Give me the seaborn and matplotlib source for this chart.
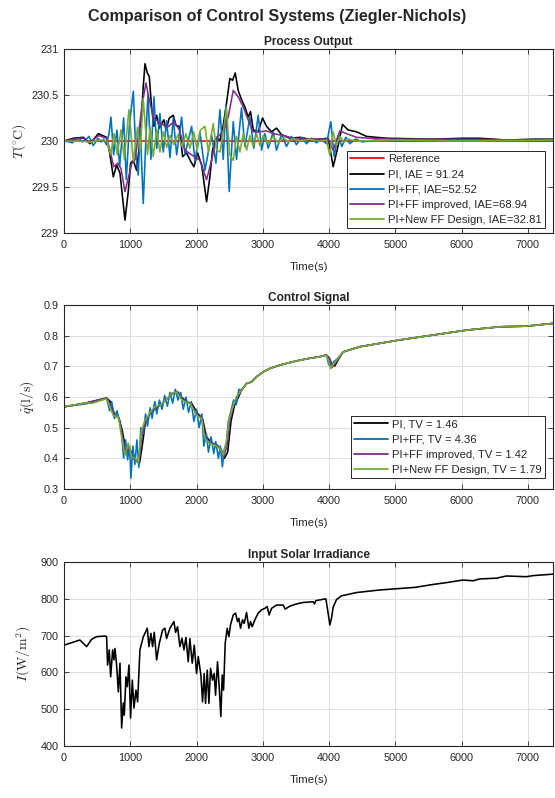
import matplotlib
matplotlib.use("Agg")
import matplotlib.pyplot as plt
import seaborn as sns

# ---- process output ----
ref_t = [0, 7380]
ref_y = [230.0, 230.0]

pi_t = [0, 141, 292, 392, 518, 643, 694, 744, 794, 845, 920, 970, 1005, 1046, 1096, 1146, 1196, 1222,
        1257, 1287, 1322, 1357, 1398, 1438, 1508, 1539, 1589, 1649, 1689, 1740, 1790, 1850, 1911, 1961,
        2016, 2077, 2152, 2202, 2242, 2292, 2353, 2403, 2453, 2503, 2544, 2584, 2629, 2679, 2730, 2780,
        2815, 2856, 2931, 2996, 3056, 3132, 3207, 3282, 3408, 3559, 3700, 3861, 3987, 4062, 4122, 4203,
        4289, 4415, 4565, 4867, 5570, 6023, 6274, 6677, 7079, 7380]
pi_y = [230.00, 230.03, 230.04, 229.97, 230.08, 230.04, 229.85, 229.61, 229.74, 229.65, 229.14, 229.45,
        229.76, 229.79, 229.68, 230.01, 230.59, 230.84, 230.74, 230.70, 230.37, 230.16, 230.28, 230.14,
        230.23, 230.12, 230.25, 230.28, 230.17, 230.16, 229.83, 229.87, 229.78, 229.72, 229.87, 229.74,
        229.34, 229.61, 229.90, 230.03, 230.01, 230.17, 230.41, 230.68, 230.66, 230.74, 230.55, 230.45,
        230.37, 230.26, 230.32, 230.12, 230.10, 230.25, 230.16, 230.10, 230.14, 230.07, 230.03, 230.04,
        230.02, 230.02, 230.03, 229.72, 229.90, 230.18, 230.12, 230.10, 230.05, 230.03, 230.02, 230.03,
        230.03, 230.01, 230.02, 230.02]

ff_t = [0, 80, 126, 180, 226, 276, 326, 377, 442, 513, 560, 600, 638, 680, 709, 749, 799, 840, 900, 940,
        990, 1046, 1085, 1121, 1150, 1196, 1240, 1267, 1312, 1357, 1400, 1448, 1498, 1549, 1600, 1649,
        1700, 1775, 1825, 1926, 1976, 2051, 2127, 2227, 2293, 2353, 2403, 2443, 2493, 2554, 2604, 2679,
        2730, 2805, 2865, 2931, 2982, 3032, 3082, 3157, 3207, 3282, 3358, 3433, 3508, 3584, 3660, 3735,
        3811, 3886, 3962, 4027, 4077, 4137, 4193, 4253, 4313, 4400, 4500, 4700, 5000, 5500, 6000, 6500,
        7000, 7380]
ff_y = [230.00, 229.99, 229.98, 230.02, 230.03, 229.99, 230.01, 230.05, 229.95, 230.03, 229.99, 230.02,
        229.96, 230.08, 230.26, 229.85, 230.12, 229.72, 230.25, 229.58, 230.20, 230.54, 229.85, 229.63,
        230.15, 229.32, 230.10, 230.51, 229.80, 230.48, 229.92, 230.30, 229.88, 230.22, 229.82, 230.25,
        229.85, 230.26, 229.85, 230.16, 229.78, 230.10, 229.68, 230.07, 229.76, 230.34, 229.80, 230.39,
        229.45, 230.21, 229.80, 230.36, 229.94, 230.26, 229.92, 230.28, 229.90, 230.08, 229.92, 230.10,
        229.90, 230.07, 229.94, 230.05, 229.96, 230.04, 229.97, 230.03, 229.98, 230.02, 229.97, 230.21,
        229.83, 230.06, 229.94, 230.04, 229.97, 230.02, 229.99, 230.01, 230.00, 230.00, 230.01, 230.00,
        230.00, 230.00]

ffi_t = [0, 150, 290, 390, 520, 643, 694, 750, 810, 860, 920, 975, 1020, 1071, 1121, 1180, 1237, 1287,
         1347, 1438, 1560, 1664, 1740, 1825, 1926, 2051, 2152, 2227, 2302, 2403, 2478, 2554, 2629, 2705,
         2780, 2856, 2956, 3056, 3157, 3308, 3459, 3610, 3850, 3987, 4062, 4163, 4263, 4415, 4600, 5000,
         5600, 6200, 6800, 7380]
ffi_y = [230.00, 230.02, 230.03, 229.98, 230.06, 230.03, 229.90, 229.72, 229.76, 229.70, 229.45, 229.61,
         229.75, 229.80, 230.05, 230.40, 230.63, 230.45, 230.26, 230.20, 230.15, 230.21, 230.12, 229.90,
         229.85, 229.79, 229.58, 229.79, 230.04, 230.10, 230.26, 230.55, 230.48, 230.37, 230.23, 230.10,
         230.10, 230.11, 230.08, 230.06, 230.03, 230.02, 230.02, 230.02, 229.90, 230.11, 230.08, 230.04,
         230.03, 230.02, 230.02, 230.02, 230.01, 230.01]

nff_t = [0, 200, 400, 550, 650, 704, 754, 804, 860, 910, 980, 1046, 1110, 1150, 1196, 1260, 1300, 1347,
         1398, 1448, 1498, 1549, 1600, 1660, 1720, 1780, 1840, 1900, 1960, 2010, 2060, 2127, 2180, 2252,
         2302, 2353, 2403, 2453, 2500, 2554, 2604, 2655, 2705, 2755, 2805, 2856, 2906, 2956, 3006, 3082,
         3157, 3232, 3308, 3383, 3459, 3560, 3700, 3850, 3962, 4010, 4062, 4113, 4163, 4230, 4300, 4400,
         5000, 6000, 7380]
nff_y = [230.00, 230.00, 229.99, 230.01, 230.00, 229.85, 230.08, 229.85, 230.12, 229.80, 230.34, 229.78,
         230.15, 229.88, 230.46, 229.85, 230.15, 229.83, 230.12, 229.88, 230.10, 229.93, 230.06, 229.96,
         230.07, 229.94, 230.08, 229.92, 230.10, 229.90, 230.12, 230.16, 229.88, 230.19, 229.90, 229.88,
         230.10, 230.36, 229.85, 229.79, 230.05, 229.88, 230.08, 229.90, 230.06, 229.94, 230.08, 229.95,
         230.06, 229.97, 230.05, 229.98, 230.04, 229.99, 230.03, 230.00, 230.02, 230.00, 230.01, 229.85,
         230.10, 229.95, 230.05, 229.99, 230.02, 230.00, 230.01, 230.00, 230.01]

# ---- control signal ----
u_mid_t = [2679, 2755, 2830, 2906, 3006, 3107, 3258, 3459, 3560, 3700, 3850, 3962]
u_mid = [0.622, 0.644, 0.649, 0.666, 0.682, 0.693, 0.704, 0.715, 0.720, 0.726, 0.731, 0.737]
u_tail_t = [4213, 4465, 5068, 5570, 6073, 6576, 6979, 7380]
u_tail = [0.747, 0.764, 0.786, 0.802, 0.818, 0.829, 0.831, 0.840]

u_pi_t = [0, 342, 643, 700, 760, 830, 880, 940, 990, 1050, 1100, 1140, 1180, 1230, 1280, 1340, 1400,
          1480, 1560, 1640, 1710, 1780, 1850, 1930, 2020, 2090, 2150, 2230, 2300, 2370, 2420, 2470, 2520,
          2570]
u_pi = [0.568, 0.581, 0.597, 0.585, 0.545, 0.530, 0.490, 0.420, 0.430, 0.410, 0.390, 0.385, 0.440, 0.520,
        0.540, 0.555, 0.565, 0.578, 0.595, 0.612, 0.618, 0.598, 0.585, 0.578, 0.545, 0.530, 0.470, 0.450,
        0.445, 0.430, 0.400, 0.420, 0.520, 0.570]
u_pi_dip_t = [4010, 4050, 4090, 4140]
u_pi_dip = [0.725, 0.700, 0.702, 0.722]

u_ff_t = [0, 200, 342, 400, 450, 520, 643, 690, 720, 760, 800, 840, 870, 900, 930, 960, 990, 1010, 1040,
          1070, 1100, 1130, 1160, 1200, 1230, 1260, 1300, 1330, 1370, 1400, 1440, 1480, 1520, 1560, 1600,
          1640, 1680, 1720, 1760, 1800, 1840, 1880, 1920, 1960, 2000, 2040, 2080, 2110, 2150, 2180, 2220,
          2260, 2290, 2330, 2360, 2390, 2420, 2450, 2480, 2520, 2560, 2600, 2640]
u_ff = [0.568, 0.574, 0.578, 0.585, 0.582, 0.588, 0.595, 0.555, 0.585, 0.530, 0.555, 0.520, 0.480, 0.400,
        0.460, 0.395, 0.440, 0.335, 0.440, 0.380, 0.460, 0.370, 0.500, 0.480, 0.545, 0.505, 0.565, 0.530,
        0.585, 0.545, 0.590, 0.560, 0.605, 0.570, 0.615, 0.580, 0.625, 0.590, 0.615, 0.560, 0.600, 0.550,
        0.585, 0.520, 0.560, 0.500, 0.545, 0.440, 0.480, 0.420, 0.470, 0.415, 0.455, 0.400, 0.440, 0.372,
        0.430, 0.450, 0.520, 0.555, 0.590, 0.575, 0.625]
u_ff_dip_t = [3995, 4015, 4035, 4070, 4113]
u_ff_dip = [0.705, 0.720, 0.695, 0.715, 0.722]

u_ffi_t = [0, 342, 643, 700, 760, 830, 880, 930, 980, 1030, 1080, 1130, 1175, 1225, 1280, 1330, 1400,
           1460, 1545, 1630, 1705, 1770, 1835, 1910, 2010, 2085, 2135, 2210, 2285, 2360, 2410, 2460, 2505,
           2560, 2604]
u_ffi = [0.568, 0.581, 0.596, 0.575, 0.540, 0.532, 0.475, 0.415, 0.440, 0.400, 0.395, 0.392, 0.470, 0.522,
         0.540, 0.556, 0.567, 0.575, 0.592, 0.612, 0.617, 0.596, 0.584, 0.579, 0.542, 0.530, 0.466, 0.449,
         0.444, 0.432, 0.405, 0.440, 0.527, 0.572, 0.600]
u_ffi_dip_t = [4015, 4045, 4080, 4130]
u_ffi_dip = [0.720, 0.697, 0.705, 0.722]

u_nff_t = [0, 342, 417, 643, 683, 744, 820, 870, 920, 970, 1020, 1071, 1121, 1171, 1222, 1272, 1322, 1372,
           1448, 1539, 1624, 1700, 1760, 1825, 1901, 2001, 2077, 2127, 2202, 2277, 2353, 2403, 2453, 2493,
           2554, 2604]
u_nff = [0.568, 0.581, 0.579, 0.595, 0.573, 0.540, 0.535, 0.470, 0.410, 0.450, 0.405, 0.399, 0.388, 0.491,
         0.524, 0.540, 0.556, 0.568, 0.573, 0.590, 0.611, 0.617, 0.595, 0.584, 0.579, 0.540, 0.529, 0.464,
         0.448, 0.443, 0.432, 0.410, 0.459, 0.530, 0.573, 0.600]
u_nff_dip_t = [4000, 4022, 4060, 4113]
u_nff_dip = [0.712, 0.693, 0.705, 0.720]

# ---- solar irradiance ----
irr_t = [0, 240, 342, 417, 492, 618, 643, 658, 683, 704, 734, 754, 769, 794, 820, 845, 870, 895, 910, 935,
         955, 980, 1005, 1031, 1056, 1086, 1111, 1146, 1197, 1257, 1282, 1312, 1337, 1362, 1398, 1438, 1488,
         1523, 1548, 1599, 1659, 1684, 1714, 1749, 1780, 1810, 1840, 1875, 1900, 1935, 1966, 2001, 2026,
         2066, 2091, 2116, 2136, 2162, 2187, 2212, 2242, 2267, 2287, 2317, 2342, 2367, 2388, 2408, 2433,
         2463, 2488, 2513, 2554, 2589, 2619, 2639, 2664, 2695, 2720, 2755, 2790, 2815, 2840, 2881, 2931,
         2981, 3031, 3066, 3096, 3132, 3207, 3308, 3338, 3408, 3509, 3609, 3760, 3780, 3800, 3952, 3987,
         4012, 4037, 4062, 4113, 4188, 4415, 4766, 5068, 5294, 5570, 5772, 6023, 6174, 6274, 6526, 6677,
         6979, 7079, 7380]
irr = [674, 688, 670, 690, 697, 699, 697, 620, 661, 588, 661, 634, 665, 620, 547, 625, 449, 517, 484, 588,
       561, 620, 476, 579, 503, 552, 520, 661, 697, 720, 670, 706, 670, 709, 634, 679, 715, 720, 692, 720,
       738, 709, 724, 670, 693, 661, 695, 629, 692, 625, 674, 597, 643, 593, 520, 597, 516, 606, 516, 611,
       579, 597, 538, 629, 561, 480, 593, 552, 679, 720, 697, 729, 756, 761, 738, 747, 720, 743, 733, 763,
       720, 738, 724, 743, 761, 770, 774, 779, 756, 774, 783, 783, 772, 780, 786, 790, 792, 786, 795, 800,
       760, 729, 747, 777, 798, 808, 817, 824, 828, 831, 839, 844, 851, 849, 854, 856, 862, 860, 863, 867]

legend1 = ["Reference", "PI, IAE = 91.24", "PI+FF, IAE=52.52", "PI+FF improved, IAE=68.94",
           "PI+New FF Design, IAE=32.81"]
legend2 = ["PI, TV = 1.46", "PI+FF, TV = 4.36", "PI+FF improved, TV = 1.42",
           "PI+New FF Design, TV = 1.79"]

RED, BLACK, BLUE, PURPLE, GREEN = "#FF0000", "#000000", "#0072BD", "#7E2F8E", "#77AC30"

sns.set_theme(style="whitegrid")
plt.rcParams["font.family"] = ["Liberation Sans", "DejaVu Sans"]
plt.rcParams["mathtext.fontset"] = "cm"
plt.rcParams.update({
    "axes.edgecolor": "#262626", "axes.linewidth": 0.8, "grid.color": "#dfdfdf", "grid.linewidth": 0.8,
    "xtick.direction": "in", "ytick.direction": "in", "xtick.top": True, "ytick.right": True,
    "xtick.bottom": True, "ytick.left": True,
    "xtick.major.size": 3.5, "ytick.major.size": 3.5, "xtick.major.width": 0.6, "ytick.major.width": 0.6,
    "xtick.color": "#262626", "ytick.color": "#262626", "xtick.labelsize": 7.8, "ytick.labelsize": 7.8,
    "xtick.major.pad": 5, "ytick.major.pad": 4,
})

fig = plt.figure(figsize=(5.55, 7.98), dpi=100)
W, H = 555.0, 798.0
left, right = 64 / W, 553 / W


def make_ax(top_px, bot_px):
    return fig.add_axes([left, 1 - bot_px / H, right - left, (bot_px - top_px) / H])


ax1 = make_ax(49, 233)
ax2 = make_ax(305, 489)
ax3 = make_ax(562, 746)

lw = 1.15
kw = dict(estimator=None, errorbar=None, sort=False, linewidth=lw)

sns.lineplot(x=ref_t, y=ref_y, ax=ax1, color=RED, label=legend1[0], **kw)
sns.lineplot(x=pi_t, y=pi_y, ax=ax1, color=BLACK, label=legend1[1], **kw)
sns.lineplot(x=ff_t, y=ff_y, ax=ax1, color=BLUE, label=legend1[2], **kw)
sns.lineplot(x=ffi_t, y=ffi_y, ax=ax1, color=PURPLE, label=legend1[3], **kw)
sns.lineplot(x=nff_t, y=nff_y, ax=ax1, color=GREEN, label=legend1[4], **kw)

sns.lineplot(x=u_pi_t + u_mid_t + u_pi_dip_t + u_tail_t, y=u_pi + u_mid + u_pi_dip + u_tail,
             ax=ax2, color=BLACK, label=legend2[0], **kw)
sns.lineplot(x=u_ff_t + u_mid_t + u_ff_dip_t + u_tail_t, y=u_ff + u_mid + u_ff_dip + u_tail,
             ax=ax2, color=BLUE, label=legend2[1], **kw)
sns.lineplot(x=u_ffi_t + u_mid_t + u_ffi_dip_t + u_tail_t, y=u_ffi + u_mid + u_ffi_dip + u_tail,
             ax=ax2, color=PURPLE, label=legend2[2], **kw)
sns.lineplot(x=u_nff_t + u_mid_t + u_nff_dip_t + u_tail_t, y=u_nff + u_mid + u_nff_dip + u_tail,
             ax=ax2, color=GREEN, label=legend2[3], **kw)

sns.lineplot(x=irr_t, y=irr, ax=ax3, color=BLACK, **kw)

xticks = list(range(0, 8000, 1000))
for ax in (ax1, ax2, ax3):
    ax.set_xlim(0, 7380)
    ax.set_xticks(xticks)
    ax.set_xticklabels([str(v) for v in xticks])
    ax.set_xlabel("Time(s)", fontsize=8.2, labelpad=9)
    ax.grid(True)
    for s in ax.spines.values():
        s.set_color("#262626")
        s.set_linewidth(0.8)

ax1.set_ylim(229, 231)
ax1.set_yticks([229, 229.5, 230, 230.5, 231])
ax1.set_yticklabels(["229", "229.5", "230", "230.5", "231"])
ax1.set_ylabel(r"$T(^{\circ}\mathrm{C})$", fontsize=10, labelpad=2)
ax1.set_title("Process Output", fontsize=8.6, fontweight="bold", pad=3)

ax2.set_ylim(0.3, 0.9)
ax2.set_yticks([0.3, 0.4, 0.5, 0.6, 0.7, 0.8, 0.9])
ax2.set_yticklabels(["0.3", "0.4", "0.5", "0.6", "0.7", "0.8", "0.9"])
ax2.set_ylabel(r"$\dot{q}(\mathrm{l/s})$", fontsize=10, labelpad=5)
ax2.set_title("Control Signal", fontsize=8.6, fontweight="bold", pad=3)

ax3.set_ylim(400, 900)
ax3.set_yticks([400, 500, 600, 700, 800, 900])
ax3.set_yticklabels(["400", "500", "600", "700", "800", "900"])
ax3.set_ylabel(r"$I(\mathrm{W/m^2})$", fontsize=10, labelpad=5)
ax3.set_title("Input Solar Irradiance", fontsize=8.6, fontweight="bold", pad=3)

leg_kw = dict(loc="lower right", borderaxespad=0, fontsize=8.1, frameon=True, fancybox=False,
              handlelength=3.0, handletextpad=0.35, labelspacing=0.45, borderpad=0.3, framealpha=1)
l1 = ax1.legend(bbox_to_anchor=(0.984, 0.027), **leg_kw)
l2 = ax2.legend(bbox_to_anchor=(0.984, 0.06), **leg_kw)
for lg in (l1, l2):
    lg.get_frame().set_edgecolor("#262626")
    lg.get_frame().set_linewidth(0.7)
    for h in lg.get_lines():
        h.set_linewidth(1.3)

fig.text(0.5, 1 - 17 / H, "Comparison of Control Systems (Ziegler-Nichols)", ha="center", va="center",
         fontsize=11.6, fontweight="bold")

fig.savefig("out.png", dpi=100)
